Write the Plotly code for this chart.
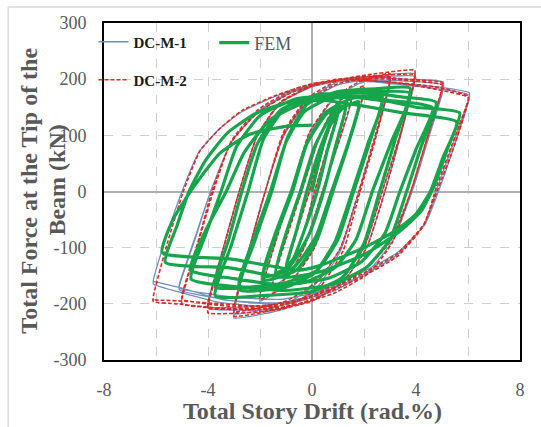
import plotly.graph_objects as go

# ---------------- data ----------------
x_ticks = [-8, -4, 0, 4, 8]
x_tick_text = ["-8", "-4", "0", "4", "8"]
y_ticks = [-300, -200, -100, 0, 100, 200, 300]
y_tick_text = ["-300", "-200", "-100", "0", "100", "200", "300"]

# DC-M-1 (test specimen 1) drift (%) / force (kN) path
dcm1_pts = [
    (0, 0), (0.5, 88), (1.0, 148), (1.0, 140),
    (0.6, 78), (0.1, 0), (-0.4, -85), (-1.0, -148), (-1.0, -140),
    (-0.6, -72), (-0.1, 0), (0.5, 98), (1.5, 168), (1.5, 158),
    (1.0, 82), (0.4, 0), (-0.3, -98), (-0.9, -148), (-1.5, -170), (-1.5, -160),
    (-1.0, -82), (-0.4, 0), (0.3, 98), (1.0, 158), (2.0, 185), (2.0, 175),
    (1.4, 82), (0.8, 0), (0.1, -98), (-0.8, -160), (-2.0, -195), (-2.0, -185),
    (-1.4, -88), (-0.8, 0), (-0.1, 103), (0.8, 163), (1.8, 192), (3.0, 205), (3.0, 195),
    (2.4, 92), (1.8, 0), (1.1, -105), (0.2, -170), (-1.0, -208), (-3.0, -225), (-3.0, -214),
    (-2.4, -98), (-1.8, 0), (-1.1, 98), (-0.2, 158), (1.0, 190), (3.0, 202), (3.0, 192),
    (2.4, 90), (1.8, 0), (1.1, -100), (0.2, -162), (-1.0, -200), (-3.0, -218), (-3.0, -208),
    (-2.4, -98), (-1.8, 0), (-1.1, 102), (-0.2, 162), (1.0, 195), (2.5, 206), (3.95, 210), (3.95, 200),
    (3.4, 98), (2.8, 0), (2.1, -100), (1.2, -160), (0, -195), (-1.5, -210), (-4.0, -208), (-4.0, -198),
    (-3.4, -98), (-2.8, 0), (-2.1, 100), (-1.2, 158), (0.2, 190), (2.0, 202), (3.95, 205), (3.95, 195),
    (3.35, 95), (2.7, 0), (2.0, -100), (1.0, -158), (-0.3, -190), (-2.0, -204), (-4.0, -205), (-4.0, -195),
    (-3.4, -98), (-2.8, 0), (-2.1, 100), (-1.2, 158), (0.2, 192), (2.0, 204), (3.6, 200), (5.05, 195), (5.05, 185),
    (4.45, 92), (3.85, 0), (3.1, -88), (2.2, -140), (0.8, -178), (-1.0, -198), (-3.0, -195), (-5.1, -175), (-5.1, -168),
    (-4.5, -85), (-3.9, 0), (-3.1, 88), (-2.1, 142), (-0.7, 180), (1.0, 198), (3.0, 198), (5.05, 190), (5.05, 182),
    (4.45, 90), (3.85, 0), (3.0, -88), (2.0, -138), (0.5, -175), (-1.2, -192), (-3.0, -188), (-5.1, -172), (-5.1, -165),
    (-4.5, -82), (-3.9, 0), (-3.1, 88), (-2.1, 140), (-0.7, 178), (1.0, 196), (3.0, 194), (4.9, 186), (6.05, 176), (6.05, 168),
    (5.45, 88), (4.85, 10), (4.3, -60), (3.3, -112), (2.0, -148), (0, -188), (-1.4, -205), (-3.5, -198), (-5.2, -178), (-6.1, -165), (-6.1, -158),
    (-5.6, -80), (-5.0, 0), (-4.35, 70), (-3.55, 112), (-2.7, 142), (-1.4, 170), (0, 190), (1.5, 198), (3.5, 190), (5.0, 182), (6.05, 172), (6.05, 165),
    (5.5, 85), (4.9, 5), (4.35, -58), (3.3, -108), (2.0, -142), (0, -185), (-1.5, -200), (-3.5, -192), (-5.0, -172), (-6.1, -160),
]

# DC-M-2 (test specimen 2)
dcm2_pts = [
    (0, 0), (0.5, 90), (1.0, 150), (1.0, 142),
    (0.6, 80), (0.1, 0), (-0.4, -85), (-1.0, -150), (-1.0, -142),
    (-0.6, -75), (-0.1, 0), (0.5, 100), (1.5, 170), (1.5, 160),
    (1.0, 85), (0.4, 0), (-0.3, -100), (-0.9, -150), (-1.5, -172), (-1.5, -162),
    (-1.0, -85), (-0.4, 0), (0.3, 100), (1.0, 160), (2.0, 188), (2.0, 178),
    (1.4, 85), (0.8, 0), (0.1, -100), (-0.8, -160), (-2.0, -192), (-2.0, -182),
    (-1.4, -90), (-0.8, 0), (-0.1, 105), (0.8, 165), (1.8, 195), (3.0, 210), (3.0, 198),
    (2.45, 95), (1.85, 0), (1.2, -105), (0.3, -170), (-1.0, -205), (-3.0, -222), (-3.0, -210),
    (-2.4, -100), (-1.8, 0), (-1.1, 100), (-0.2, 160), (1.0, 192), (3.0, 204), (3.0, 194),
    (2.4, 95), (1.8, 0), (1.1, -100), (0.2, -160), (-1.0, -195), (-3.0, -214), (-3.0, -204),
    (-2.4, -100), (-1.8, 0), (-1.1, 105), (-0.2, 165), (1.0, 198), (2.5, 210), (3.95, 216), (3.95, 204),
    (3.4, 100), (2.8, 0), (2.1, -100), (1.2, -160), (0, -195), (-1.5, -212), (-4.0, -216), (-4.0, -204),
    (-3.4, -100), (-2.8, 0), (-2.1, 100), (-1.2, 160), (0.2, 192), (2.0, 204), (3.95, 208), (3.95, 198),
    (3.35, 95), (2.7, 0), (2.0, -100), (1.0, -160), (-0.3, -192), (-2.0, -206), (-4.0, -208), (-4.0, -198),
    (-3.4, -100), (-2.8, 0), (-2.1, 100), (-1.2, 158), (0.2, 192), (2.0, 205), (3.6, 200), (5.0, 194), (5.0, 184),
    (4.4, 92), (3.8, 0), (3.1, -90), (2.2, -145), (0.8, -182), (-1.0, -205), (-3.0, -210), (-5.0, -200), (-5.0, -190),
    (-4.4, -95), (-3.8, 0), (-3.1, 90), (-2.1, 145), (-0.7, 182), (1.0, 200), (3.0, 200), (5.0, 190), (5.0, 182),
    (4.4, 90), (3.8, 0), (3.0, -90), (2.0, -140), (0.5, -178), (-1.2, -200), (-3.0, -205), (-5.0, -192), (-5.0, -184),
    (-4.4, -92), (-3.85, 0), (-3.1, 88), (-2.1, 140), (-0.7, 178), (1.0, 198), (3.0, 195), (4.9, 185), (6.0, 170), (6.0, 162),
    (5.4, 85), (4.8, 10), (4.3, -60), (3.3, -115), (2.0, -150), (0, -192), (-1.4, -210), (-3.5, -208), (-5.2, -200), (-6.1, -196), (-6.1, -186),
    (-5.55, -90), (-4.95, 0), (-4.3, 73), (-3.5, 114), (-2.7, 144), (-1.4, 171), (0, 192), (1.5, 200), (3.5, 192), (5.0, 180), (6.0, 168), (6.0, 160),
    (5.5, 85), (4.85, 5), (4.3, -58), (3.3, -110), (2.0, -145), (0, -188), (-1.5, -205), (-3.5, -200), (-5.0, -195), (-6.15, -193),
]

# FEM (numerical model)
fem_pts = [
    (0, 0), (0.3, 60), (0.65, 115), (1.0, 140),
    (0.6, 75), (0.2, 0), (-0.3, -70), (-0.7, -118), (-1.0, -135),
    (-0.6, -70), (-0.2, 0), (0.3, 75), (0.8, 130), (1.3, 152),
    (0.9, 80), (0.45, 0), (-0.1, -75), (-0.8, -130), (-1.4, -145),
    (-1.0, -75), (-0.45, 0), (0.1, 80), (0.8, 138), (1.8, 160),
    (1.35, 80), (0.75, 0), (0.15, -80), (-0.7, -135), (-1.9, -152),
    (-1.45, -80), (-0.8, 0), (-0.2, 85), (0.6, 140), (1.8, 158),
    (1.35, 78), (0.8, 0), (0.2, -85), (-0.6, -140), (-1.9, -158),
    (-1.4, -80), (-0.75, 0), (-0.2, 85), (0.5, 140), (1.5, 165), (2.7, 170),
    (2.2, 85), (1.6, 0), (1.0, -85), (0.2, -140), (-1.0, -162), (-2.8, -168),
    (-2.25, -85), (-1.6, 0), (-1.0, 88), (-0.3, 142), (0.8, 168), (2.7, 165),
    (2.15, 85), (1.55, 0), (0.9, -88), (0.1, -145), (-1.0, -170), (-2.8, -175),
    (-2.2, -88), (-1.55, 0), (-0.95, 95), (-0.2, 155), (1.0, 178), (2.5, 183), (3.77, 184),
    (3.2, 92), (2.6, 0), (2.0, -92), (1.2, -152), (0, -178), (-1.8, -185), (-3.72, -186),
    (-3.1, -95), (-2.46, 0), (-1.85, 95), (-1.0, 150), (0.3, 172), (2.0, 177), (3.77, 175),
    (3.05, 88), (2.32, 0), (1.7, -85), (0.9, -135), (-0.3, -162), (-2.0, -170), (-3.72, -170),
    (-3.2, -85), (-2.7, 0), (-2.1, 85), (-1.2, 145), (0.2, 172), (2.0, 176), (3.5, 168), (4.77, 159),
    (4.2, 80), (3.64, 0), (3.0, -85), (2.1, -135), (0.8, -165), (-1.0, -176), (-2.8, -170), (-4.65, -156),
    (-4.1, -78), (-3.5, 0), (-2.9, 80), (-2.0, 135), (-0.6, 165), (1.2, 172), (3.0, 162), (4.64, 149),
    (4.0, 75), (3.38, 0), (2.8, -75), (1.9, -125), (0.6, -155), (-1.2, -166), (-3.0, -155), (-4.68, -140),
    (-4.1, -70), (-3.3, 0), (-2.6, 70), (-1.6, 128), (-0.2, 160), (1.5, 168), (3.0, 160), (4.0, 150), (5.68, 140),
    (5.2, 75), (4.7, 10), (4.2, -35), (3.4, -70), (2.1, -110), (0.4, -142), (-1.0, -153), (-3.15, -136), (-5.64, -126),
    (-5.2, -62), (-4.73, 0), (-4.1, 55), (-3.26, 104), (-2.2, 138), (-1.0, 158), (0.5, 162), (2.0, 152), (3.5, 140), (5.56, 124),
    (5.05, 62), (4.55, 0), (4.0, -40), (3.2, -70), (2.0, -100), (0.3, -132), (-0.5, -140), (-3.15, -120), (-5.76, -109),
    (-5.35, -50), (-4.6, 5), (-3.55, 68), (-2.4, 102), (-1.0, 116), (0, 118),
]

dcm1_x = [p[0] for p in dcm1_pts]
dcm1_y = [p[1] for p in dcm1_pts]
dcm2_x = [p[0] for p in dcm2_pts]
dcm2_y = [p[1] for p in dcm2_pts]
fem_x = [p[0] for p in fem_pts]
fem_y = [p[1] for p in fem_pts]

# ---------------- figure ----------------
SERIF = "Liberation Serif, Times New Roman, serif"
GRAY = "#595959"

fig = go.Figure()
fig.add_trace(go.Scatter(
    x=dcm1_x, y=dcm1_y, mode="lines", name="<b>DC-M-1</b>", showlegend=True,
    line=dict(color="#6f8fbd", width=1.3, shape="spline", smoothing=0.5),
    legend="legend",
))
fig.add_trace(go.Scatter(
    x=dcm2_x, y=dcm2_y, mode="lines", name="<b>DC-M-2</b>", showlegend=True,
    line=dict(color="#dd2a24", width=1.6, dash="4px,2px", shape="spline", smoothing=0.5),
    legend="legend3",
))
fig.add_trace(go.Scatter(
    x=fem_x, y=fem_y, mode="lines", name="FEM", showlegend=True,
    line=dict(color="#16a54a", width=3.2, shape="spline", smoothing=0.5),
    legend="legend2",
))

L, R, T, B = 103.5, 20.6, 23, 67
PW, PH = 541 - L - R, 427 - T - B


def px(xp):
    return (xp - L) / PW


def py(yp):
    return (427 - B - yp) / PH


axis_common = dict(
    showline=True, linecolor="black", linewidth=2, mirror=True,
    ticks="", showgrid=True, gridcolor="#cfcfcf", gridwidth=1, griddash="dash",
    zeroline=True, zerolinecolor="#b0b0b0", zerolinewidth=2,
    tickfont=dict(family=SERIF, size=18, color=GRAY),
    ticklabelstandoff=12,
)

fig.update_layout(
    width=541, height=427,
    margin=dict(l=L, r=R, t=T, b=B),
    paper_bgcolor="white", plot_bgcolor="white",
    showlegend=True,
    xaxis=dict(range=[-8, 8], tickmode="array", tickvals=x_ticks, ticktext=x_tick_text,
               minor=dict(tickmode="array", tickvals=[-6, -2, 2, 6], showgrid=True,
                          gridcolor="#cfcfcf", gridwidth=1, griddash="dash"),
               **axis_common),
    yaxis=dict(range=[-300, 300], tickmode="array", tickvals=y_ticks, ticktext=y_tick_text,
               **axis_common),
    legend=dict(x=px(93), xanchor="left", y=py(42), yanchor="middle", visible=True,
                bgcolor="rgba(0,0,0,0)", font=dict(family=SERIF, size=15, color="#1a1a1a")),
    legend3=dict(x=px(93), xanchor="left", y=py(80), yanchor="middle", visible=True,
                 bgcolor="rgba(0,0,0,0)", font=dict(family=SERIF, size=15, color="#1a1a1a")),
    legend2=dict(x=px(214), xanchor="left", y=py(43), yanchor="middle", visible=True,
                 bgcolor="rgba(0,0,0,0)", font=dict(family=SERIF, size=18, color=GRAY)),
    annotations=[
        dict(text="<b>Total Story Drift (rad.%)</b>", xref="paper", yref="paper",
             x=px(312), y=py(411), xanchor="center", yanchor="middle", showarrow=False,
             font=dict(family=SERIF, size=24, color=GRAY)),
        dict(text="<b>Total Force at the Tip of the</b>", xref="paper", yref="paper",
             x=px(28), y=py(191), xanchor="center", yanchor="middle", showarrow=False,
             textangle=-90, font=dict(family=SERIF, size=24, color=GRAY)),
        dict(text="<b>Beam (kN)</b>", xref="paper", yref="paper",
             x=px(56), y=py(180), xanchor="center", yanchor="middle", showarrow=False,
             textangle=-90, font=dict(family=SERIF, size=24, color=GRAY)),
    ],
    shapes=[
        dict(type="line", xref="paper", yref="paper", x0=px(7.5), x1=px(545),
             y0=py(7), y1=py(7), line=dict(color="#d9d9d9", width=1.5)),
        dict(type="line", xref="paper", yref="paper", x0=px(7.5), x1=px(7.5),
             y0=py(7), y1=py(430), line=dict(color="#d9d9d9", width=1.5)),
    ],
)

fig.write_html("out.html")
